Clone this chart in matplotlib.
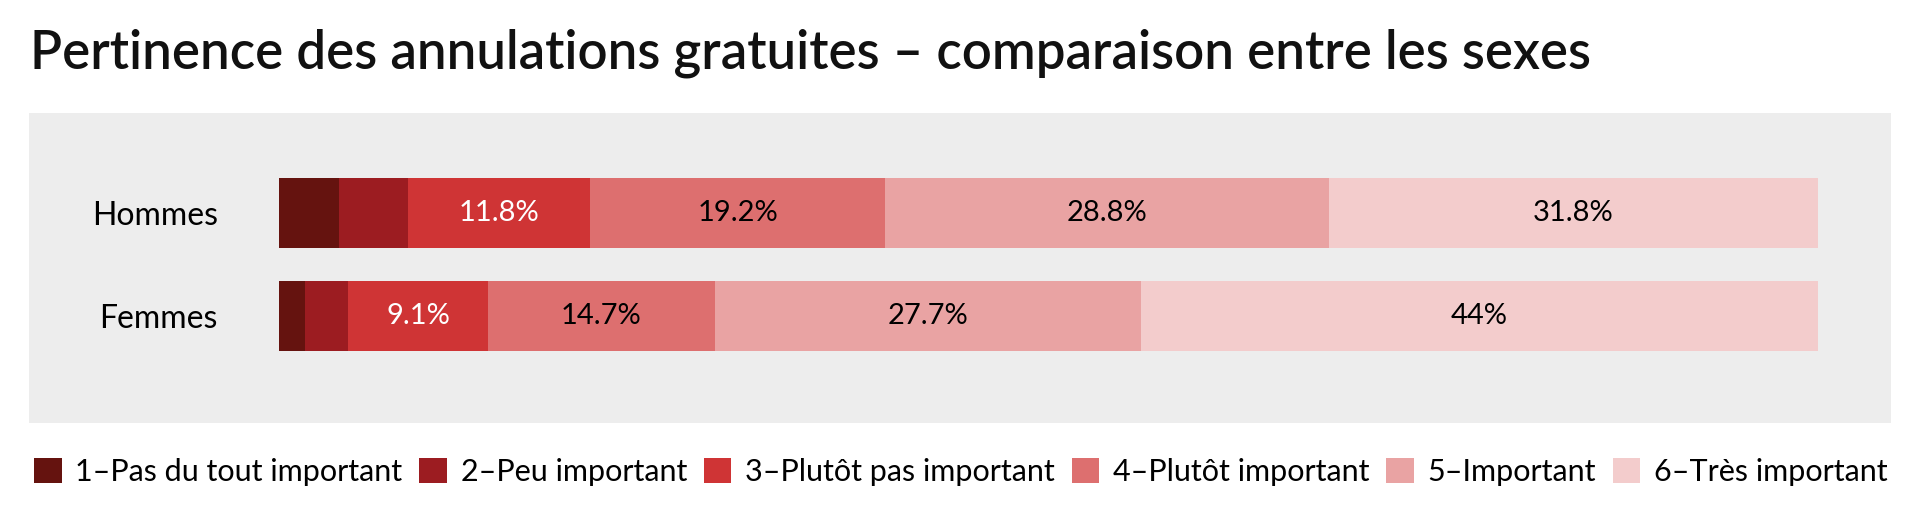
import numpy as np
import matplotlib.pyplot as plt
from matplotlib.patches import Rectangle

plt.rcParams['font.family'] = ['Lato', 'DejaVu Sans']

groups = ['Hommes', 'Femmes']
categories = ['1–Pas du tout important', '2–Peu important', '3–Plutôt pas important',
              '4–Plutôt important', '5–Important', '6–Très important']
hommes = [3.9, 4.5, 11.8, 19.2, 28.8, 31.8]
femmes = [1.7, 2.8, 9.1, 14.7, 27.7, 44.0]
colors = ['#65130f', '#9c1c21', '#cf3435', '#dd6f6f', '#e9a3a3', '#f3cccc']
text_colors = ['white', 'white', 'white', 'black', 'black', 'black']

values = np.array([hommes, femmes])

W, H = 1920, 520
fig = plt.figure(figsize=(W / 100, H / 100), dpi=100)

# grey panel behind the bars
fig.patches.append(Rectangle((29 / W, 1 - 423 / H), (1891 - 29) / W, (423 - 113) / H,
                             transform=fig.transFigure, facecolor='#ededed',
                             edgecolor='none', zorder=-1))

ax = fig.add_axes([279 / W, 1 - 423 / H, (1818 - 279) / W, 310 / H])
ax.set_facecolor('none')
ax.set_zorder(2)

y = np.arange(len(groups))
left = np.zeros(len(groups))
for i, cat in enumerate(categories):
    bars = ax.barh(y, values[:, i], left=left, height=0.68, color=colors[i],
                   label=cat, linewidth=0)
    for j, b in enumerate(bars):
        v = values[j, i]
        if v >= 5:
            lbl = f'{v:g}%'
            ax.text(left[j] + v / 2, y[j], lbl, ha='center', va='center',
                    fontsize=21, color=text_colors[i])
    left += values[:, i]

ax.set_xlim(0, 100)
ax.set_ylim(2.04, -0.97)
ax.set_yticks(y)
ax.set_yticklabels(groups, fontsize=23)
ax.tick_params(axis='y', length=0, pad=44)
ax.set_xticks([])
for s in ax.spines.values():
    s.set_visible(False)

fig.text(30 / W, 1 - 68 / H, 'Pertinence des annulations gratuites – comparaison entre les sexes',
         fontsize=38, fontweight='semibold', va='baseline', ha='left', color='#111111')

handles, labels = ax.get_legend_handles_labels()
fig.legend(handles, labels, loc='center left', bbox_to_anchor=(22 / W, 1 - 472 / H),
           ncol=6, frameon=False, fontsize=22, handlelength=0.9, handleheight=0.9,
           handletextpad=0.45, columnspacing=0.55, borderaxespad=0)

fig.savefig('out.png', dpi=100, facecolor='white')
